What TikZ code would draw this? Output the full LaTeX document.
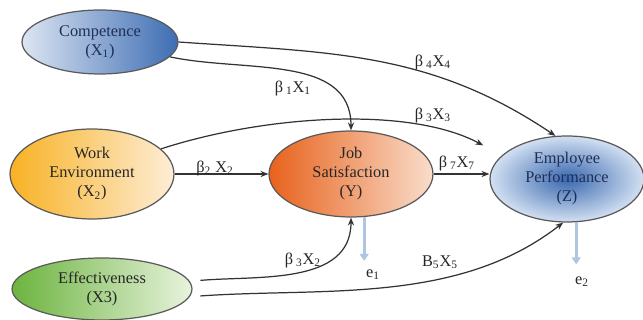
\documentclass[tikz,border=0pt]{standalone}
\usepackage{fontspec}
\setmainfont{Liberation Serif}
\usetikzlibrary{shapes.geometric,arrows.meta}

\begin{document}
\begin{tikzpicture}[x=0.02cm, y=0.02cm,
    construct/.style={ellipse, draw=borderColour, line width=0.7pt, inner sep=0pt, align=center, font=\fontsize{9.3}{10.8}\selectfont, text=textColour},
    pathArrow/.style={draw=lineColour, line width=0.7pt, -{Stealth[length=4.5pt,width=3.5pt]}},
    residual/.style={draw=errorColour, line width=1.6pt, -{Triangle[length=4pt,width=5pt]}},
    coef/.style={font=\fontsize{9.3}{10.8}\selectfont, text=textColour, inner sep=1pt}]

    \definecolor{borderColour}{HTML}{5A5A5A}
    \definecolor{lineColour}{HTML}{333333}
    \definecolor{textColour}{HTML}{262626}
    \definecolor{navyColour}{HTML}{1F2F55}
    \definecolor{errorColour}{HTML}{AFC6E3}
    \definecolor{compLeft}{HTML}{DCE5F2}
    \definecolor{compRight}{HTML}{3D6DB3}
    \definecolor{workLeft}{HTML}{F8B224}
    \definecolor{workRight}{HTML}{FDEDD6}
    \definecolor{jobLeft}{HTML}{E8621C}
    \definecolor{jobRight}{HTML}{F9DDCB}
    \definecolor{perfInner}{HTML}{3A68AF}
    \definecolor{perfOuter}{HTML}{D2E0F2}
    \definecolor{effLeft}{HTML}{6CB43F}
    \definecolor{effRight}{HTML}{E8F3DD}

    % Fix the canvas
    \useasboundingbox (0,0) rectangle (643,320);

    % Draw constructs
    \node[construct, minimum width=3.12cm, minimum height=1.28cm, left color=compLeft, right color=compRight, text=navyColour] (comp) at (100,278) {Competence\\(X\textsubscript{1})};
    \node[construct, minimum width=3.28cm, minimum height=1.8cm, left color=workLeft, right color=workRight] (work) at (92,146) {Work\\Environment\\(X\textsubscript{2})};
    \node[construct, minimum width=3.28cm, minimum height=1.72cm, left color=jobLeft, right color=jobRight] (job) at (351,146) {Job\\Satisfaction\\(Y)};
    \node[construct, minimum width=3.08cm, minimum height=1.72cm, inner color=perfInner, outer color=perfOuter, text=navyColour] (perf) at (567,141) {Employee\\Performance\\(Z)};
    \node[construct, minimum width=3.6cm, minimum height=1.24cm, left color=effLeft, right color=effRight] (eff) at (102,31) {Effectiveness\\(X3)};

    % Draw paths
    \draw[pathArrow] (comp.east) to[out=-4, in=146] (perf.105);
    \draw[pathArrow] (comp.-12) to[out=-12, in=90] (job.north);
    \draw[pathArrow, shorten >=12pt] (work.20) to[out=18, in=152, looseness=0.8] (perf.160);
    \draw[pathArrow] (work.east) -- (job.west);
    \draw[pathArrow] (job.east) -- (job.east -| perf.west);
    \draw[pathArrow, shorten <=6pt] (eff.5) to[out=5, in=-90] (job.south);
    \draw[pathArrow, shorten <=6pt] (eff.-5) to[out=4, in=218, looseness=0.9] (perf.265);

    % Label coefficients
    \node[coef] (b1) at (293,232) {β\,\textsubscript{1}X\textsubscript{1}};
    \node[coef] (b4) at (433,258) {β\,\textsubscript{4}X\textsubscript{4}};
    \node[coef] (b3) at (433,205) {β\,\textsubscript{3}X\textsubscript{3}};
    \node[coef] (b2) at (215,152) {β\textsubscript{2} X\textsubscript{2}};
    \node[coef] (b7) at (457,157) {β\,\textsubscript{7}X\textsubscript{7}};
    \node[coef] (b6) at (303,60) {β\,\textsubscript{3}X\textsubscript{2}};
    \node[coef] (b5) at (440,58) {B\textsubscript{5}X\textsubscript{5}};

    % Draw residuals
    \node[coef] (e1) at (373,45) {e\textsubscript{1}};
    \node[coef] (e2) at (582,38) {e\textsubscript{2}};
    \draw[residual, shorten >=4pt] (job.-73) -- (job.-73 |- e1.north);
    \draw[residual, shorten >=6pt] (perf.-78) -- (perf.-78 |- e2.north);

\end{tikzpicture}
\end{document}
